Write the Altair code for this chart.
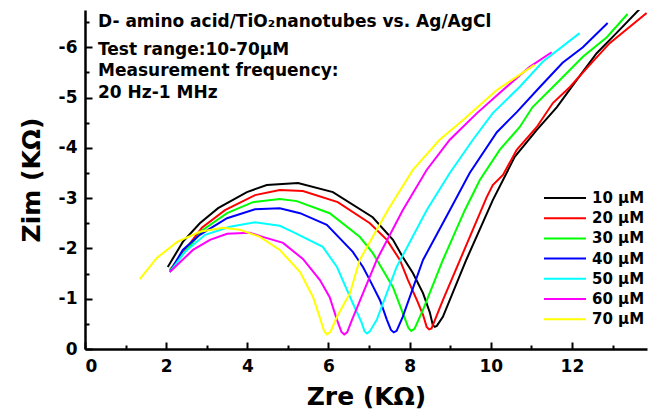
import altair as alt
import pandas as pd

CONCENTRATIONS = ["10 μM", "20 μM", "30 μM", "40 μM", "50 μM", "60 μM", "70 μM"]
COLORS = ["#000000", "#FF0000", "#00FF00", "#0000FF", "#00FFFF", "#FF00FF", "#FFFF00"]

ZRE_10 = [2.04, 2.41, 2.83, 3.28, 3.99, 4.48, 5.25, 6.11, 7.09, 7.59, 7.83, 8.08, 8.33, 8.50, 8.57, 8.62, 8.67, 8.82, 9.40, 10.05, 10.59, 11.13, 11.63, 12.12, 12.61, 13.00, 13.67]
ZIM_10 = [-1.63, -2.13, -2.50, -2.80, -3.12, -3.26, -3.30, -3.12, -2.62, -2.17, -1.83, -1.51, -1.11, -0.72, -0.48, -0.44, -0.46, -0.64, -1.78, -2.96, -3.82, -4.35, -4.81, -5.35, -5.88, -6.20, -6.76]

ZRE_20 = [2.09, 2.88, 3.45, 4.19, 4.80, 5.37, 6.23, 7.02, 7.44, 7.76, 7.96, 8.18, 8.33, 8.42, 8.48, 8.54, 8.82, 9.90, 10.05, 10.30, 10.64, 11.13, 11.53, 11.95, 12.44, 12.93, 13.84]
ZIM_20 = [-1.57, -2.41, -2.76, -3.06, -3.16, -3.14, -2.92, -2.50, -2.17, -1.77, -1.37, -0.97, -0.68, -0.44, -0.39, -0.41, -0.97, -3.02, -3.26, -3.46, -3.96, -4.41, -4.89, -5.21, -5.65, -6.08, -6.68]

ZRE_30 = [2.09, 2.91, 3.50, 4.14, 4.80, 5.22, 6.03, 6.77, 7.09, 7.34, 7.59, 7.83, 7.97, 8.04, 8.12, 8.33, 8.82, 9.36, 9.73, 10.22, 10.71, 11.03, 11.63, 12.27, 12.86, 13.37]
ZIM_30 = [-1.57, -2.37, -2.70, -2.92, -2.98, -2.94, -2.70, -2.23, -1.91, -1.57, -1.23, -0.72, -0.42, -0.36, -0.40, -0.78, -1.77, -2.76, -3.36, -3.96, -4.41, -4.81, -5.29, -5.81, -6.20, -6.66]

ZRE_40 = [2.09, 2.41, 2.83, 3.50, 4.19, 4.80, 5.30, 5.96, 6.60, 6.85, 7.02, 7.27, 7.44, 7.54, 7.61, 7.68, 7.83, 8.33, 8.99, 9.48, 10.15, 10.64, 11.21, 11.77, 12.27, 12.88]
ZIM_40 = [-1.53, -1.97, -2.27, -2.60, -2.78, -2.80, -2.70, -2.47, -1.93, -1.63, -1.37, -0.97, -0.58, -0.38, -0.33, -0.36, -0.64, -1.77, -2.76, -3.50, -4.31, -4.71, -5.21, -5.69, -6.00, -6.48]

ZRE_50 = [2.09, 2.46, 2.96, 3.57, 4.19, 4.80, 5.12, 5.86, 6.21, 6.35, 6.60, 6.82, 6.89, 6.95, 7.02, 7.19, 7.68, 8.42, 8.99, 9.56, 10.05, 10.71, 11.28, 12.19]
ZIM_50 = [-1.53, -1.93, -2.27, -2.43, -2.52, -2.45, -2.33, -2.03, -1.63, -1.37, -0.91, -0.52, -0.35, -0.31, -0.35, -0.58, -1.63, -2.76, -3.50, -4.16, -4.69, -5.21, -5.71, -6.28]

ZRE_60 = [2.09, 2.66, 3.08, 3.50, 4.06, 4.38, 4.88, 5.37, 5.79, 6.03, 6.21, 6.32, 6.39, 6.46, 6.58, 7.19, 7.83, 8.42, 8.99, 9.66, 10.30, 10.96, 11.50]
ZIM_60 = [-1.53, -1.97, -2.17, -2.29, -2.31, -2.23, -2.11, -1.79, -1.37, -1.03, -0.58, -0.34, -0.29, -0.33, -0.58, -1.77, -2.76, -3.56, -4.16, -4.69, -5.15, -5.61, -5.90]

ZRE_70 = [1.35, 1.77, 2.27, 2.83, 3.40, 3.82, 4.31, 4.80, 5.30, 5.62, 5.79, 5.89, 5.96, 6.05, 6.21, 6.53, 6.77, 7.46, 8.08, 8.74, 9.31, 10.15, 11.08]
ZIM_70 = [-1.39, -1.81, -2.13, -2.33, -2.41, -2.37, -2.23, -1.97, -1.53, -1.03, -0.62, -0.36, -0.29, -0.34, -0.64, -1.11, -1.77, -2.76, -3.56, -4.16, -4.55, -5.15, -5.65]

X_TICKS = [0, 2, 4, 6, 8, 10, 12]
X_MINOR = [1, 3, 5, 7, 9, 11, 13]
Y_TICKS = [0, -1, -2, -3, -4, -5, -6]
Y_MINOR = [-0.5, -1.5, -2.5, -3.5, -4.5, -5.5, -6.5]

NOTES = [
    "D- amino acid/TiO₂nanotubes vs. Ag/AgCl",
    "Test range:10-70μM",
    "Measurement frequency:",
    "20 Hz-1 MHz",
]

FONT = "DejaVu Sans"
W, H = 562, 339

rows = []
for label, xs, ys in zip(
    CONCENTRATIONS,
    [ZRE_10, ZRE_20, ZRE_30, ZRE_40, ZRE_50, ZRE_60, ZRE_70],
    [ZIM_10, ZIM_20, ZIM_30, ZIM_40, ZIM_50, ZIM_60, ZIM_70],
):
    for i, (xv, yv) in enumerate(zip(xs, ys)):
        rows.append({"series": label, "zre": xv, "zim": yv, "idx": i})
df = pd.DataFrame(rows)

x_scale = alt.Scale(domain=[0, 13.85], nice=False, zero=False)
y_scale = alt.Scale(domain=[0, -6.74], nice=False, zero=False)

lines = alt.Chart(df).mark_line(strokeWidth=2, clip=True).encode(
    x=alt.X(
        "zre:Q", scale=x_scale,
        axis=alt.Axis(
            values=X_TICKS + X_MINOR, title="Zre (KΩ)", orient="bottom",
            labelExpr="datum.value % 2 === 0 ? format(datum.value, 'd') : ''",
            tickWidth=2,
            tickSize={"condition": {"test": "datum.value % 2 === 0", "value": -7}, "value": -4},
            labelPadding=16, titlePadding=10,
        ),
    ),
    y=alt.Y(
        "zim:Q", scale=y_scale,
        axis=alt.Axis(
            values=Y_TICKS + Y_MINOR, title="Zim (KΩ)", orient="left",
            labelExpr="datum.value % 1 !== 0 ? '' : (datum.value == 0 ? '0' : '-' + abs(datum.value))",
            tickWidth=2,
            tickSize={"condition": {"test": "datum.value % 1 === 0", "value": -7}, "value": -4},
            labelPadding=15, titlePadding=14,
        ),
    ),
    color=alt.Color(
        "series:N",
        scale=alt.Scale(domain=CONCENTRATIONS, range=COLORS),
        legend=alt.Legend(
            title=None,
            orient="none",
            legendX=472,
            legendY=180,
            symbolType="M-3,0H3",
            symbolSize=196,
            symbolStrokeWidth=2,
            labelFont=FONT,
            labelFontSize=15,
            labelFontWeight="bold",
            labelColor="#000000",
            labelOffset=19,
            rowPadding=4.2,
        ),
    ),
    order="idx:Q",
)

note_ys = [17, 45, 66, 88]
layers = [lines]
for note, ny in zip(NOTES, note_ys):
    layers.append(
        alt.Chart(pd.DataFrame({"note": [note]})).mark_text(
            align="left", baseline="alphabetic", font=FONT, fontSize=17,
            fontWeight="bold", color="#000000",
        ).encode(text="note:N", x=alt.value(13), y=alt.value(ny))
    )

chart = alt.layer(*layers).properties(
    width=W,
    height=H,
    padding={"left": 77, "top": 2, "right": 5, "bottom": 60},
    autosize=alt.AutoSizeParams(type="none"),
    background="white",
).configure_view(stroke=None).configure_axis(
    grid=False,
    domainColor="#000000",
    domainWidth=2.5,
    tickColor="#000000",
    labelFont=FONT,
    labelFontSize=17,
    labelFontWeight="bold",
    labelColor="#000000",
    titleFont=FONT,
    titleFontSize=25,
    titleFontWeight="bold",
    titleColor="#000000",
)

chart.save("out.html", embed_options={"renderer": "svg", "actions": False})
